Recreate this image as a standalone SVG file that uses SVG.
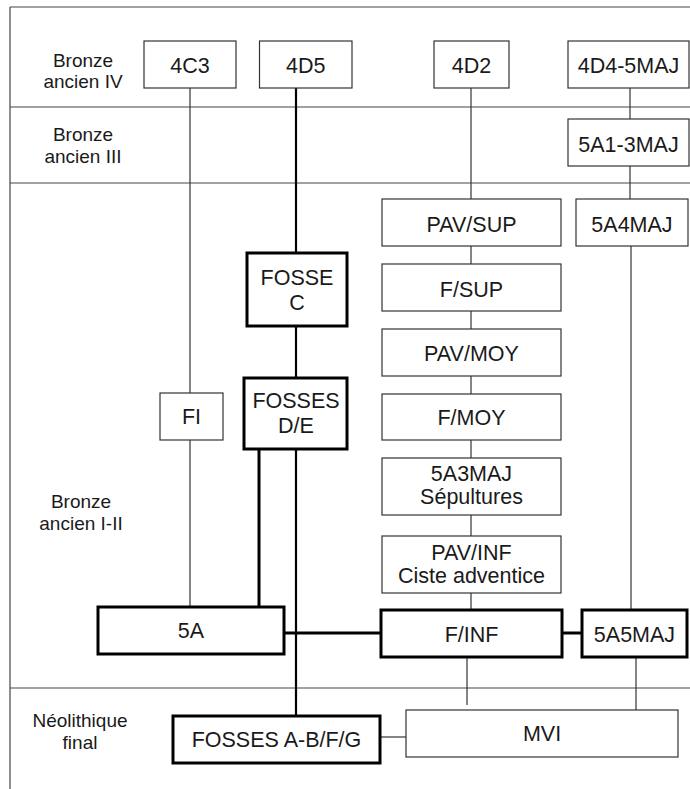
<svg xmlns="http://www.w3.org/2000/svg" width="690" height="789" viewBox="0 0 690 789">
<style>
  text { font-family: "Liberation Sans", Arial, sans-serif; fill: #1a1a1a; text-anchor: middle; }
  .lbl { font-size: 21.5px; }
  .per { font-size: 19px; }
  .box { fill: #ffffff; stroke: #333333; stroke-width: 1.2; }
  .bold { fill: #ffffff; stroke: #000000; stroke-width: 3; }
  .frame { stroke: #444444; stroke-width: 1.2; fill: none; }
  .thin { stroke: #333333; stroke-width: 1.2; fill: none; }
  .thick { stroke: #000000; stroke-width: 2.2; fill: none; }
  .heavy { stroke: #000000; stroke-width: 3; fill: none; }
</style>
<rect x="0" y="0" width="690" height="789" fill="#ffffff"/>
<g id="frame">
  <line class="frame" x1="10" y1="7" x2="690" y2="7"/>
  <line class="frame" x1="10" y1="7" x2="10" y2="789"/>
  <line class="frame" x1="10" y1="107" x2="690" y2="107"/>
  <line class="frame" x1="10" y1="183" x2="690" y2="183"/>
  <line class="frame" x1="10" y1="688" x2="690" y2="688"/>
</g>
<g id="periods">
  <text class="per" x="83" y="67">Bronze</text>
  <text class="per" x="83" y="88">ancien IV</text>
  <text class="per" x="83" y="141">Bronze</text>
  <text class="per" x="83" y="163">ancien III</text>
  <text class="per" x="81" y="508">Bronze</text>
  <text class="per" x="81" y="530">ancien I-II</text>
  <text class="per" x="80" y="727">Néolithique</text>
  <text class="per" x="80" y="749">final</text>
</g>
<g id="connectors">
  <line class="thin" x1="190" y1="88" x2="190" y2="393"/>
  <line class="thin" x1="190" y1="440" x2="190" y2="607"/>
  <line class="thick" x1="296" y1="88" x2="296" y2="253"/>
  <line class="thick" x1="296" y1="326" x2="296" y2="378"/>
  <line class="thick" x1="296" y1="449" x2="296" y2="716"/>
  <line class="heavy" x1="259" y1="449" x2="259" y2="607"/>
  <line class="thin" x1="471" y1="88" x2="471" y2="199"/>
  <line class="thin" x1="471" y1="246" x2="471" y2="264"/>
  <line class="thin" x1="471" y1="311" x2="471" y2="329"/>
  <line class="thin" x1="471" y1="376" x2="471" y2="394"/>
  <line class="thin" x1="471" y1="440" x2="471" y2="458"/>
  <line class="thin" x1="471" y1="515" x2="471" y2="536"/>
  <line class="thin" x1="471" y1="593" x2="471" y2="610"/>
  <line class="thin" x1="467" y1="657" x2="467" y2="705"/>
  <line class="thin" x1="630" y1="88" x2="630" y2="119"/>
  <line class="thin" x1="630" y1="166" x2="630" y2="199"/>
  <line class="thin" x1="631" y1="246" x2="631" y2="610"/>
  <line class="thin" x1="636" y1="657" x2="636" y2="710"/>
  <line class="heavy" x1="284" y1="633" x2="381" y2="633"/>
  <line class="heavy" x1="562" y1="633" x2="582" y2="633"/>
  <line class="thin" x1="380" y1="737" x2="406" y2="737"/>
</g>
<g id="n4C3"><rect class="box" x="144" y="41" width="92" height="47"/><text class="lbl" x="190" y="73">4C3</text></g>
<g id="n4D5"><rect class="box" x="259.5" y="41" width="92.5" height="47"/><text class="lbl" x="305.7" y="73">4D5</text></g>
<g id="n4D2"><rect class="box" x="434" y="41" width="75" height="47"/><text class="lbl" x="471.5" y="73">4D2</text></g>
<g id="n4D4-5MAJ"><rect class="box" x="568" y="41" width="121" height="47"/><text class="lbl" x="628.5" y="73">4D4-5MAJ</text></g>
<g id="n5A1-3MAJ"><rect class="box" x="568" y="119" width="121" height="47"/><text class="lbl" x="628.5" y="152">5A1-3MAJ</text></g>
<g id="nPAVSUP"><rect class="box" x="382" y="199" width="179" height="47"/><text class="lbl" x="471.5" y="232">PAV/SUP</text></g>
<g id="n5A4MAJ"><rect class="box" x="576" y="199" width="112" height="47"/><text class="lbl" x="632" y="232">5A4MAJ</text></g>
<g id="nFSUP"><rect class="box" x="382" y="264" width="179" height="47"/><text class="lbl" x="471.5" y="297">F/SUP</text></g>
<g id="nPAVMOY"><rect class="box" x="382" y="329" width="179" height="47"/><text class="lbl" x="471.5" y="361">PAV/MOY</text></g>
<g id="nFMOY"><rect class="box" x="382" y="394" width="179" height="46"/><text class="lbl" x="471.5" y="425">F/MOY</text></g>
<g id="n5A3MAJ"><rect class="box" x="382" y="458" width="179" height="57"/><text class="lbl" x="471.5" y="481">5A3MAJ</text><text class="lbl" x="471.5" y="504">Sépultures</text></g>
<g id="nPAVINF"><rect class="box" x="382" y="536" width="179" height="57"/><text class="lbl" x="471.5" y="560">PAV/INF</text><text class="lbl" x="471.5" y="583">Ciste adventice</text></g>
<g id="nFINF"><rect class="bold" x="381" y="610" width="181" height="47"/><text class="lbl" x="471.5" y="642">F/INF</text></g>
<g id="n5A5MAJ"><rect class="bold" x="582" y="610" width="105" height="47"/><text class="lbl" x="634.5" y="642">5A5MAJ</text></g>
<g id="nMVI"><rect class="box" x="406" y="710" width="272" height="47"/><text class="lbl" x="542" y="741">MVI</text></g>
<g id="nFOSSESABFG"><rect class="bold" x="173" y="716" width="207" height="47"/><text class="lbl" x="276.5" y="747">FOSSES A-B/F/G</text></g>
<g id="n5A"><rect class="bold" x="98" y="607" width="186" height="47"/><text class="lbl" x="191" y="638">5A</text></g>
<g id="nFOSSEC"><rect class="bold" x="247" y="253" width="100" height="73"/><text class="lbl" x="297" y="285">FOSSE</text><text class="lbl" x="297" y="310">C</text></g>
<g id="nFOSSESDE"><rect class="bold" x="244" y="378" width="103" height="71"/><text class="lbl" x="296" y="408">FOSSES</text><text class="lbl" x="296" y="433">D/E</text></g>
<g id="nFI"><rect class="box" x="160" y="393" width="63" height="47"/><text class="lbl" x="191.5" y="424">FI</text></g>
</svg>
